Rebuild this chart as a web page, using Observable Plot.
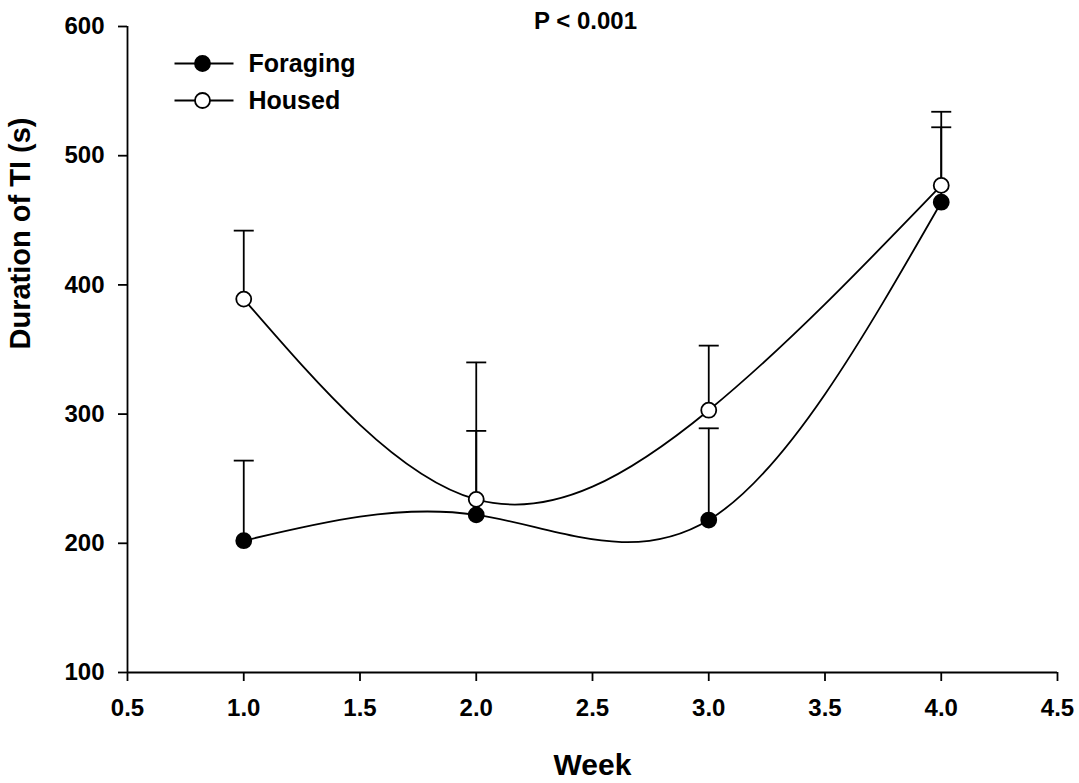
<!DOCTYPE html>
<html>
<head>
<meta charset="utf-8">
<script src="https://cdn.jsdelivr.net/npm/d3@7"></script>
<script src="https://cdn.jsdelivr.net/npm/@observablehq/plot@0.6"></script>
<style>
  html, body { margin: 0; padding: 0; background: white; }
  #chart svg { display: block; }
</style>
</head>
<body>
<div id="chart"></div>
<script>
// ---- Data ----
const weeks = [1, 2, 3, 4];
const foragingMean  = [202, 222, 218, 464];
const foragingUpper = [264, 287, 289, 522];
const housedMean    = [389, 234, 303, 477];
const housedUpper   = [442, 340, 353, 534];
const seriesNames = ["Foraging", "Housed"];
const xTicks = [0.5, 1.0, 1.5, 2.0, 2.5, 3.0, 3.5, 4.0, 4.5];
const yTicks = [100, 200, 300, 400, 500, 600];
const xTitle = "Week";
const yTitle = "Duration of TI (s)";
const annotation = "P < 0.001";

const foraging = weeks.map((w, i) => ({series: "Foraging", week: w, value: foragingMean[i], upper: foragingUpper[i]}));
const housed = weeks.map((w, i) => ({series: "Housed", week: w, value: housedMean[i], upper: housedUpper[i]}));
const all = foraging.concat(housed);

const SW = 1.8;

// custom symbols
const capSymbol = {draw(ctx) { ctx.moveTo(-10, 0); ctx.lineTo(10, 0); }};
const legendLine = {draw(ctx) { ctx.moveTo(-28, 0); ctx.lineTo(31, 0); }};

const legendFill = {Foraging: "black", Housed: "white"};
const legendMarks = seriesNames.flatMap((s, i) => {
  const dy = 37 + i * 37;
  return [
    Plot.dot([s], {frameAnchor: "top-left", dx: 75, dy, symbol: legendLine, stroke: "black", strokeWidth: SW, fill: "none"}),
    Plot.dot([s], {frameAnchor: "top-left", dx: 75, dy, r: 7.5, fill: legendFill[s], stroke: "black", strokeWidth: SW}),
    Plot.text([s], {frameAnchor: "top-left", dx: 121, dy, textAnchor: "start", lineAnchor: "middle", fontSize: 25, fontWeight: "bold", text: d => d})
  ];
});

const chart = Plot.plot({
  width: 1079,
  height: 783,
  marginLeft: 127,
  marginRight: 22,
  marginTop: 26,
  marginBottom: 111,
  x: {domain: [0.5, 4.5]},
  y: {domain: [100, 600]},
  style: {fontFamily: "'Liberation Sans', Arial, sans-serif", fontWeight: "bold", fontSize: "24px", color: "black", background: "white"},
  marks: [
    Plot.axisX({ticks: xTicks, tickFormat: d => d.toFixed(1), tickSize: 9, tickPadding: 17, strokeWidth: SW, fontSize: 24, fontWeight: "bold", label: null}),
    Plot.axisY({ticks: yTicks, tickSize: 9, tickPadding: 14, strokeWidth: SW, fontSize: 24, fontWeight: "bold", label: null}),
    Plot.ruleX([0.5], {strokeWidth: SW}),
    Plot.ruleY([100], {strokeWidth: SW}),
    // error bars
    Plot.ruleX(all, {x: "week", y1: "value", y2: "upper", stroke: "black", strokeWidth: SW}),
    Plot.dot(all, {x: "week", y: "upper", symbol: capSymbol, stroke: "black", fill: "none", strokeWidth: SW}),
    // lines
    Plot.line(all, {x: "week", y: "value", z: "series", curve: "natural", stroke: "black", strokeWidth: SW}),
    // points
    Plot.dot(foraging, {x: "week", y: "value", r: 7.5, fill: "black", stroke: "black", strokeWidth: SW}),
    Plot.dot(housed, {x: "week", y: "value", r: 7.5, fill: "white", stroke: "black", strokeWidth: SW}),
    ...legendMarks,
    // titles
    Plot.text([annotation], {frameAnchor: "top", dx: -7, dy: 2, lineAnchor: "bottom", fontSize: 24, fontWeight: "bold", text: d => d}),
    Plot.text([xTitle], {frameAnchor: "bottom", dy: 102, lineAnchor: "bottom", fontSize: 30, fontWeight: "bold", text: d => d}),
    Plot.text([yTitle], {frameAnchor: "left", dx: -118, rotate: -90, lineAnchor: "top", fontSize: 29, fontWeight: "bold", text: d => d})
  ]
});

document.getElementById("chart").appendChild(chart);
</script>
</body>
</html>
